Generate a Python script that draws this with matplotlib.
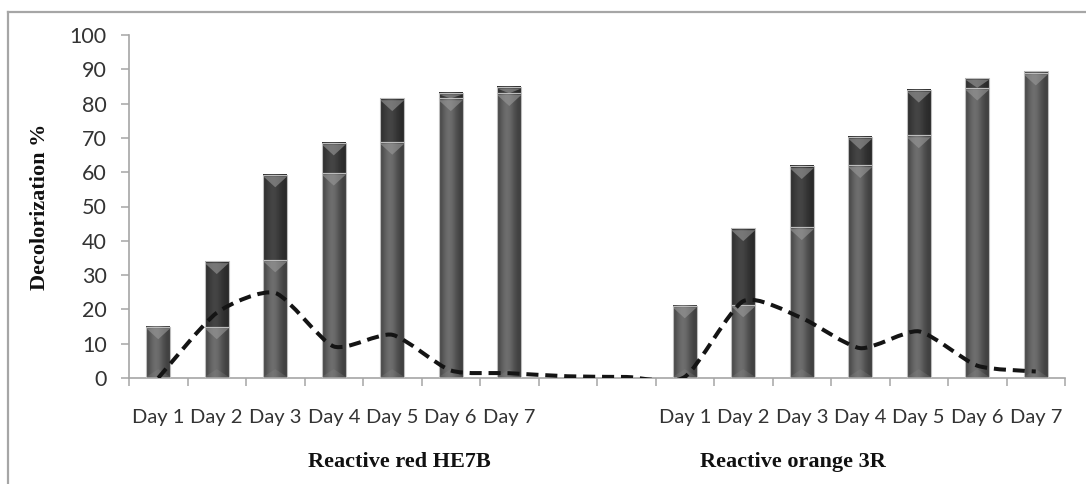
import numpy as np
import matplotlib
matplotlib.use("Agg")
import matplotlib.pyplot as plt
from matplotlib.path import Path
from matplotlib.patches import PathPatch, Polygon
from matplotlib.lines import Line2D

# ---- data -------------------------------------------------------------
days = ["Day 1", "Day 2", "Day 3", "Day 4", "Day 5", "Day 6", "Day 7"]
tick_labels = days + ["", ""] + days

# stacked bars: previous level (lower) + gain of the day (upper)
red_lower = [15.0, 15.0, 34.5, 59.8, 68.8, 81.5, 83.0]
red_upper = [0.0, 19.0, 24.8, 8.8, 12.7, 1.7, 1.9]
orange_lower = [21.1, 21.4, 43.9, 62.0, 70.7, 84.6, 89.0]
orange_upper = [0.0, 22.2, 17.8, 8.3, 13.3, 2.9, 0.5]

# dashed curve: daily decolorization
red_daily = [0.0, 19.0, 24.8, 9.2, 12.6, 2.2, 1.4]
gap_daily = [0.5, 0.3]
orange_daily = [0.3, 22.4, 17.5, 8.7, 13.6, 3.6, 1.9]

lower = red_lower + [0.0, 0.0] + orange_lower
upper = red_upper + [0.0, 0.0] + orange_upper
daily = red_daily + gap_daily + orange_daily

# ---- figure -----------------------------------------------------------
W, H = 1086, 484
fig = plt.figure(figsize=(W / 100, H / 100), dpi=100)
ax = fig.add_axes([129 / W, 1 - 378 / H, (1065 - 129) / W, (378 - 35) / H])

x = np.arange(len(tick_labels))
bar_w = 0.41
axis_grey = "#a6a6a6"

t = np.linspace(0, 1, 64)
profile = np.exp(-((t - 0.42) / 0.33) ** 2)


def draw_segment(xc, y0, y1, dark):
    if y1 - y0 <= 0:
        return
    if dark:
        vals = 0.16 + 0.11 * profile
    else:
        vals = 0.24 + 0.19 * profile
    img = np.tile(vals, (2, 1))
    ax.imshow(img, cmap="gray", vmin=0, vmax=1, aspect="auto",
              interpolation="bilinear",
              extent=(xc - bar_w / 2, xc + bar_w / 2, y0, y1), zorder=2)
    # bevel highlight at the top of the segment
    d_top = 0.5
    depth = min(3.2, max(y1 - y0 - d_top, 0.3))
    tri = Polygon([(xc - bar_w / 2, y1 - d_top), (xc + bar_w / 2, y1 - d_top),
                   (xc, y1 - d_top - depth)], closed=True,
                  facecolor="#9a9a9a", edgecolor="none", alpha=0.6, zorder=3)
    ax.add_patch(tri)
    ax.add_patch(plt.Rectangle((xc - bar_w / 2, y0), bar_w, y1 - y0,
                               facecolor="none", edgecolor="#bdbdbd",
                               linewidth=0.8, zorder=3))


for xi, lo, up in zip(x, lower, upper):
    if lo <= 0:
        continue
    draw_segment(xi, 0.0, lo, dark=False)
    # faint bevel at the base of the bar
    ax.add_patch(Polygon([(xi - bar_w / 2, 0.3), (xi + bar_w / 2, 0.3),
                          (xi, 2.6)], closed=True, facecolor="#8a8a8a",
                         edgecolor="none", alpha=0.25, zorder=3))
    draw_segment(xi, lo, lo + up, dark=True)

# gently smoothed dashed curve (cardinal spline as cubic Bezier)
tension = 1.0 / 9.0
pts = np.column_stack([x, daily]).astype(float)
ext = np.vstack([pts[0], pts, pts[-1]])
verts = [tuple(pts[0])]
codes = [Path.MOVETO]
for i in range(1, len(ext) - 2):
    p0, p1, p2, p3 = ext[i - 1], ext[i], ext[i + 1], ext[i + 2]
    c1 = p1 + (p2 - p0) * tension
    c2 = p2 - (p3 - p1) * tension
    verts += [tuple(c1), tuple(c2), tuple(p2)]
    codes += [Path.CURVE4] * 3
curve = PathPatch(Path(verts, codes), fill=False, edgecolor="#141414",
                  linewidth=2.9, linestyle=(0, (3.0, 1.7)), zorder=5,
                  capstyle="butt", joinstyle="round")
ax.add_patch(curve)

# ---- axes -------------------------------------------------------------
ax.set_xlim(-0.5, len(tick_labels) - 0.5)
ax.set_ylim(0, 100)
for s in ["top", "right"]:
    ax.spines[s].set_visible(False)
for s in ["left", "bottom"]:
    ax.spines[s].set_color(axis_grey)
    ax.spines[s].set_linewidth(1.2)

ax.set_yticks(np.arange(0, 101, 10))
ax.tick_params(axis="y", direction="out", length=6, width=1.1,
               color=axis_grey, pad=10, labelsize=15.5, labelcolor="#333333")

ax.set_xticks(np.arange(-0.5, len(tick_labels), 1.0))
ax.set_xticklabels([])
ax.tick_params(axis="x", which="major", direction="out", length=6,
               width=1.1, color=axis_grey)
ax.set_xticks(x, minor=True)
ax.set_xticklabels(tick_labels, minor=True)
ax.tick_params(axis="x", which="minor", length=0, pad=22, labelsize=14.5,
               labelcolor="#333333")

for lab in ax.get_yticklabels() + ax.get_xticklabels(minor=True):
    lab.set_fontfamily("Lato")

fig.text(40 / W, 1 - 207 / H, "Decolorization %", rotation=90,
         ha="center", va="center", fontsize=16, fontweight="bold",
         family="Liberation Serif", color="#111111")
fig.text(399 / W, 1 - 462 / H, "Reactive red HE7B", ha="center",
         va="center", fontsize=16, fontweight="bold",
         family="Liberation Serif", color="#111111")
fig.text(793 / W, 1 - 462 / H, "Reactive orange 3R", ha="center",
         va="center", fontsize=16, fontweight="bold",
         family="Liberation Serif", color="#111111")

# outer chart frame
fig.add_artist(Line2D([8 / W, 8 / W], [0, 1 - 12 / H], color=axis_grey,
                      linewidth=1.6, transform=fig.transFigure))
fig.add_artist(Line2D([8 / W, 1], [1 - 12 / H, 1 - 12 / H], color=axis_grey,
                      linewidth=1.6, transform=fig.transFigure))

fig.savefig("out.png", dpi=100)
